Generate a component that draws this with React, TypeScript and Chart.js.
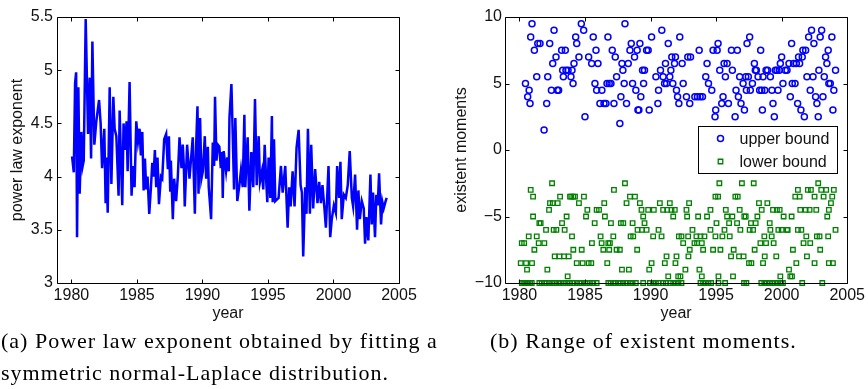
import React, { useEffect, useRef } from 'react';
import { Chart, registerables } from 'chart.js';

Chart.register(...registerables);

const YEAR0 = 1980;
const X_MIN = 1978.9;
const X_MAX = 2005;

const yearTicks = [1980, 1985, 1990, 1995, 2000, 2005];
const exponentTicks = [3, 3.5, 4, 4.5, 5, 5.5];
const momentTicks = [-10, -5, 0, 5, 10];

// [years since 1980, power law exponent]
const exponentSeries: [number, number][] = [
  [0.05, 4.19], [0.18, 4.04], [0.28, 4.88], [0.36, 4.98], [0.43, 3.43], [0.53, 4.84], [0.63, 3.84], [0.76, 4.42],
  [0.86, 4.1], [0.94, 4.15], [1.09, 5.48], [1.27, 4.4], [1.4, 4.93], [1.5, 4.17], [1.6, 5.27], [1.75, 4.3],
  [1.9, 4.52], [2.11, 4.72], [2.23, 4.5], [2.34, 4.08], [2.51, 4.45], [2.61, 3.75], [2.66, 4.18], [2.77, 3.66],
  [2.92, 4.84], [3.05, 3.93], [3.2, 4.75], [3.3, 4.45], [3.43, 4.38], [3.6, 3.82], [3.68, 4.62], [3.88, 3.73],
  [3.98, 4.5], [4.09, 4.25], [4.21, 4.52], [4.29, 4.05], [4.44, 4.89], [4.59, 3.82], [4.7, 4.1], [4.82, 3.9],
  [4.95, 4.52], [5.08, 4.33], [5.2, 4.45], [5.3, 4.2], [5.41, 4.42], [5.51, 3.87], [5.61, 4.17], [5.71, 3.88],
  [5.81, 4.0], [5.94, 3.65], [6.07, 3.9], [6.17, 4.13], [6.27, 4.0], [6.37, 4.25], [6.47, 3.9], [6.57, 4.18],
  [6.68, 3.74], [6.83, 4.0], [6.93, 3.98], [7.08, 4.35], [7.23, 4.4], [7.36, 4.07], [7.44, 4.38], [7.54, 3.87],
  [7.59, 4.15], [7.74, 3.6], [7.84, 3.98], [7.99, 3.77], [8.12, 4.0], [8.25, 4.37], [8.4, 4.08], [8.5, 4.3],
  [8.58, 4.1], [8.65, 3.72], [8.83, 4.3], [9.01, 3.98], [9.26, 4.37], [9.42, 3.65], [9.52, 4.3], [9.62, 4.66],
  [9.7, 3.84], [9.82, 4.55], [9.92, 3.98], [10.03, 4.05], [10.18, 4.38], [10.28, 3.98], [10.41, 4.28], [10.48, 3.9],
  [10.66, 3.6], [10.79, 4.32], [10.89, 4.1], [10.96, 4.75], [11.07, 4.15], [11.17, 4.3], [11.29, 4.28], [11.4, 4.08],
  [11.5, 4.23], [11.55, 3.8], [11.62, 4.24], [11.8, 4.05], [11.9, 4.18], [12.01, 4.05], [12.06, 4.55], [12.21, 4.87],
  [12.31, 4.4], [12.41, 3.88], [12.51, 4.55], [12.66, 3.77], [12.82, 3.92], [12.94, 4.06], [13.07, 3.9], [13.2, 4.58],
  [13.27, 3.9], [13.45, 4.37], [13.58, 3.68], [13.73, 4.23], [13.88, 3.9], [14.01, 4.73], [14.14, 3.92], [14.29, 4.38],
  [14.39, 3.95], [14.54, 4.05], [14.64, 3.88], [14.75, 4.3], [14.85, 4.0], [14.95, 3.76], [15.05, 4.18], [15.18, 3.8],
  [15.3, 4.57], [15.36, 3.76], [15.46, 4.35], [15.56, 3.77], [15.81, 3.8], [15.99, 4.1], [16.12, 3.85], [16.32, 4.1],
  [16.5, 3.52], [16.62, 3.9], [16.73, 3.72], [16.88, 4.05], [17.03, 3.72], [17.18, 4.27], [17.34, 4.44], [17.49, 3.92],
  [17.59, 3.85], [17.69, 3.25], [17.84, 3.9], [17.94, 3.65], [18.05, 4.45], [18.2, 3.65], [18.3, 4.3], [18.45, 3.7],
  [18.6, 4.07], [18.78, 3.75], [18.91, 3.95], [19.04, 3.75], [19.16, 3.92], [19.31, 3.7], [19.42, 3.52], [19.54, 3.87],
  [19.62, 4.1], [19.75, 3.43], [19.87, 3.6], [20.03, 3.73], [20.18, 3.66], [20.28, 4.1], [20.43, 3.8], [20.53, 4.14],
  [20.63, 3.6], [20.79, 3.83], [20.94, 3.8], [21.09, 3.92], [21.24, 4.24], [21.4, 3.8], [21.5, 3.72], [21.65, 4.02],
  [21.8, 3.5], [21.9, 3.87], [22.01, 3.6], [22.16, 3.77], [22.31, 3.7], [22.41, 3.37], [22.51, 3.62], [22.66, 3.4],
  [22.82, 4.02], [22.92, 3.55], [23.02, 3.85], [23.17, 3.43], [23.27, 3.83], [23.38, 3.73], [23.48, 4.03], [23.63, 3.55],
  [23.73, 3.76], [23.83, 3.7], [23.98, 3.77], [24.06, 3.8],
];

// [years since 1980, upper bound]
const upperBound: [number, number][] = [
  [0.46, 5], [0.63, 4], [0.74, 4.5], [0.81, 3.5], [0.86, 8.5], [0.96, 9.5], [1.14, 7.5], [1.32, 5.5], [1.4, 8], [1.57, 8],
  [1.88, 1.5], [2.08, 3.5], [2.16, 5.5], [2.31, 8], [2.44, 4.5], [2.54, 6.5], [2.64, 9], [2.79, 7], [2.89, 4.5], [2.99, 4.5],
  [3.22, 7.5], [3.3, 6], [3.35, 5.5], [3.5, 7.5], [3.55, 6], [3.71, 6], [3.93, 5.5], [4.01, 6], [4.09, 5], [4.16, 6.5],
  [4.29, 8.5], [4.37, 8], [4.54, 7], [4.72, 9.5], [4.9, 9], [5.0, 2.5], [5.28, 7], [5.51, 6.5], [5.63, 8.5], [5.76, 5],
  [5.84, 7.5], [5.89, 4.5], [5.99, 6.5], [6.14, 3.5], [6.29, 4.5], [6.45, 3.5], [6.6, 3.5], [6.68, 5], [6.75, 8.5], [6.85, 5],
  [6.98, 5], [7.08, 7.5], [7.21, 3.5], [7.31, 7], [7.41, 5.5], [7.66, 2], [7.74, 4], [7.82, 6.5], [7.89, 6], [7.99, 5],
  [8.05, 9.5], [8.17, 3.5], [8.3, 6.5], [8.43, 7.5], [8.53, 8], [8.63, 5], [8.78, 7], [8.88, 4.5], [8.98, 7.5], [9.04, 3],
  [9.11, 3], [9.19, 8], [9.26, 4], [9.39, 6], [9.47, 5], [9.54, 6], [9.7, 7.5], [9.82, 7.5], [9.9, 3], [10.08, 8.5],
  [10.41, 5.5], [10.56, 3.5], [10.61, 4.5], [10.76, 6], [10.86, 9], [10.96, 5.5], [11.07, 5], [11.14, 6.5], [11.22, 5], [11.35, 8],
  [11.47, 5.5], [11.55, 6], [11.62, 7], [11.7, 5], [11.83, 6.5], [11.9, 7], [11.98, 4.5], [12.06, 4], [12.16, 3.5], [12.23, 8.5],
  [12.41, 6.5], [12.49, 5], [12.74, 4], [12.84, 7], [12.99, 3.5], [13.05, 7], [13.38, 4], [13.58, 4], [13.71, 7.5], [13.78, 4],
  [13.96, 4], [14.21, 5.5], [14.31, 6.5], [14.42, 5], [14.67, 4.5], [14.77, 7.5], [14.92, 2.5], [14.97, 3], [15.08, 7.5], [15.15, 8],
  [15.28, 6], [15.43, 3.5], [15.53, 4], [15.61, 6.5], [15.71, 5.5], [15.84, 6.5], [15.94, 3.5], [16.17, 7.5], [16.24, 6], [16.45, 2.5],
  [16.52, 4.5], [16.62, 7.5], [16.7, 4], [16.8, 5.5], [16.9, 3.5], [17.06, 5], [17.16, 3], [17.26, 5.5], [17.31, 4.5], [17.36, 8],
  [17.46, 5.5], [17.56, 8.5], [17.61, 4.5], [17.77, 5], [17.92, 6.5], [17.99, 6], [18.07, 6], [18.2, 5.5], [18.32, 4.5], [18.4, 7.5],
  [18.48, 4.5], [18.53, 3], [18.58, 5.5], [18.71, 4.5], [18.81, 6], [18.93, 6], [19.14, 5.5], [19.26, 4.5], [19.34, 3.5], [19.44, 2.5],
  [19.52, 6], [19.64, 6], [19.72, 4.5], [19.82, 6], [19.9, 6.5], [20.0, 7], [20.1, 5], [20.28, 6], [20.41, 6], [20.56, 6.5],
  [20.66, 4], [20.76, 8], [20.81, 5], [20.91, 6.5], [21.02, 5], [21.12, 6.5], [21.22, 3.5], [21.29, 7], [21.37, 6.5], [21.47, 3],
  [21.57, 7], [21.62, 7.5], [21.73, 2.5], [21.83, 7.5], [21.93, 5.5], [22.06, 8.5], [22.18, 4.5], [22.28, 9], [22.39, 5.5], [22.46, 8],
  [22.59, 4], [22.69, 3.5], [22.79, 2.5], [22.84, 6], [22.94, 8.5], [23.05, 9], [23.15, 4], [23.25, 5.5], [23.35, 7], [23.45, 6.5],
  [23.55, 7.5], [23.6, 5], [23.71, 5], [23.83, 8.5], [23.91, 3], [23.98, 4.5], [24.11, 6],
];

// [years since 1980, lower bound]
const lowerBound: [number, number][] = [
  [0.18, -10], [0.3, -10], [0.43, -10], [0.56, -10], [0.69, -10], [0.81, -10], [0.94, -10], [1.52, -10], [1.7, -10], [1.9, -10],
  [2.08, -10], [2.28, -10], [2.51, -10], [2.72, -10], [2.97, -10], [3.17, -10], [3.4, -10], [3.65, -10], [3.86, -10], [4.11, -10],
  [4.37, -10], [4.57, -10], [4.75, -10], [5.0, -10], [5.18, -10], [5.38, -10], [5.63, -10], [5.89, -10], [6.78, -10], [6.95, -10],
  [7.16, -10], [7.33, -10], [7.54, -10], [7.72, -10], [7.92, -10], [8.17, -10], [8.43, -10], [8.63, -10], [8.88, -10], [9.44, -10],
  [9.95, -10], [10.2, -10], [10.41, -10], [10.61, -10], [10.96, -10], [11.17, -10], [11.52, -10], [11.73, -10], [11.93, -10], [12.13, -10],
  [12.36, -10], [13.81, -10], [14.01, -10], [14.21, -10], [14.42, -10], [14.62, -10], [15.18, -10], [15.69, -10], [17.13, -10], [17.31, -10],
  [18.45, -10], [18.68, -10], [18.88, -10], [19.09, -10], [19.29, -10], [19.49, -10], [19.7, -10], [19.95, -10], [20.1, -10], [21.57, -10],
  [23.1, -10],
  [0.1, -8.5], [0.18, -7], [0.36, -7], [0.51, -8.5], [0.58, -9], [0.71, -6.5], [0.86, -3], [0.96, -8.5], [1.04, -3.5], [1.04, -5],
  [1.14, -7.5], [1.32, -6.5], [1.47, -7], [1.52, -5.5], [1.62, -5.5], [1.9, -7], [2.03, -6], [2.13, -9], [2.26, -4.5], [2.33, -4],
  [2.49, -2.5], [2.54, -4], [2.61, -6], [2.69, -8], [2.82, -6], [2.92, -4], [3.05, -8], [3.1, -3.5], [3.25, -5.5], [3.4, -8],
  [3.45, -6], [3.6, -5], [3.68, -9.5], [3.76, -8], [3.86, -3.5], [3.96, -3.5], [4.01, -6.5], [4.11, -3.5], [4.11, -7.5], [4.24, -3.5],
  [4.37, -8.5], [4.54, -4], [4.75, -7.5], [4.82, -8.5], [4.92, -3.5], [5.08, -5], [5.18, -4.5], [5.28, -8.5], [5.48, -8.5], [5.53, -7],
  [5.74, -5.5], [5.89, -4.5], [6.07, -4.5], [6.19, -6.5], [6.27, -7], [6.4, -7.5], [6.47, -4], [6.52, -5], [6.7, -8.5], [6.78, -7],
  [6.85, -7.5], [6.9, -7], [6.98, -5.5], [7.16, -6.5], [7.21, -3], [7.41, -7.5], [7.66, -7.5], [7.74, -5.5], [7.82, -9], [7.92, -5.5],
  [8.05, -2.5], [8.17, -4], [8.35, -9], [8.43, -3.5], [8.48, -6.5], [8.63, -5.5], [8.68, -6.5], [8.81, -3.5], [8.98, -7.5], [9.01, -6],
  [9.19, -4], [9.31, -4.5], [9.34, -6], [9.44, -5], [9.54, -5.5], [9.7, -6], [9.82, -4.5], [9.9, -9], [10.08, -8.5], [10.2, -6.5],
  [10.25, -4.5], [10.61, -6], [10.71, -4], [10.84, -6.5], [10.96, -4.5], [11.09, -8.5], [11.22, -8], [11.27, -4.5], [11.35, -9.5], [11.47, -4],
  [11.6, -4.5], [11.73, -5], [11.85, -4.5], [11.9, -8.5], [11.98, -8], [12.11, -9.5], [12.16, -6.5], [12.28, -9.5], [12.36, -6.5], [12.49, -7],
  [12.66, -9], [12.74, -4.5], [12.79, -5], [12.87, -6.5], [12.89, -8], [12.94, -4], [12.99, -7.5], [13.2, -6], [13.35, -7], [13.5, -6.5],
  [13.55, -7], [13.63, -5], [13.73, -9], [13.81, -6.5], [13.91, -7], [13.91, -9.5], [14.01, -7.5], [14.11, -6.5], [14.31, -5], [14.57, -4.5],
  [14.57, -6], [14.77, -7.5], [14.95, -6.5], [14.95, -3.5], [15.03, -5.5], [15.15, -3.5], [15.18, -9.5], [15.25, -2.5], [15.33, -7.5], [15.48, -6.5],
  [15.64, -6], [15.74, -4.5], [15.84, -5], [15.99, -5.5], [16.04, -6.5], [16.14, -8], [16.24, -5], [16.29, -9.5], [16.34, -7.5], [16.47, -3.5],
  [16.6, -5.5], [16.65, -3.5], [16.75, -8], [16.8, -4.5], [16.85, -6], [16.97, -2.5], [17.1, -8], [17.15, -5], [17.26, -5], [17.51, -8.5],
  [17.56, -6], [17.66, -5.5], [17.69, -8.5], [17.82, -6], [17.87, -2.5], [17.94, -7.5], [18.02, -5.5], [18.15, -5], [18.27, -4], [18.38, -7],
  [18.48, -4.5], [18.58, -8.5], [18.68, -6.5], [18.71, -8], [18.81, -7], [18.91, -4], [19.09, -5.5], [19.14, -6], [19.24, -6.5], [19.34, -4.5],
  [19.39, -7], [19.59, -8], [19.64, -4.5], [19.75, -6], [19.85, -4.5], [19.9, -9.5], [20.0, -6], [20.15, -5], [20.41, -6], [20.46, -6],
  [20.56, -9], [20.66, -9.5], [20.76, -5], [20.79, -9.5], [20.86, -7.5], [21.04, -3.5], [21.12, -8.5], [21.24, -3], [21.24, -6], [21.37, -3.5],
  [21.42, -4.5], [21.5, -6], [21.67, -7], [21.83, -4.5], [21.88, -6.5], [21.93, -8], [22.0, -3], [22.13, -4.5], [22.18, -7], [22.23, -3],
  [22.51, -8.5], [22.51, -3.5], [22.64, -4.5], [22.69, -6.5], [22.79, -2.5], [22.89, -6.5], [22.94, -7.5], [23.02, -3], [23.2, -3.5], [23.4, -3],
  [23.48, -5], [23.55, -6.5], [23.6, -4.5], [23.6, -8.5], [23.76, -4], [23.86, -3.5], [23.91, -8.5], [23.98, -3], [24.11, -6],
];

const BLUE = '#0000ff';
const GREEN = '#008000';
const INK = '#111111';
const SANS = '"Liberation Sans", Arial, Helvetica, sans-serif';
const axisFont = { family: SANS, size: 16 };

const toPoints = (rows: [number, number][]) => rows.map(([o, v]) => ({ x: YEAR0 + o, y: v }));
const fmt = (v: number) => String(v).replace('-', '\u2212');

const framePlugin = {
  id: 'matlabFrame',
  afterDraw(chart: any) {
    const { ctx, chartArea: a, scales } = chart;
    const L = 4;
    ctx.save();
    ctx.strokeStyle = '#000';
    ctx.lineWidth = 1;
    const l = Math.round(a.left) + 0.5, r = Math.round(a.right) + 0.5;
    const t = Math.round(a.top) + 0.5, b = Math.round(a.bottom) + 0.5;
    ctx.beginPath();
    ctx.rect(l, t, r - l, b - t);
    for (const tk of scales.x.ticks) {
      const px = Math.round(scales.x.getPixelForValue(tk.value)) + 0.5;
      ctx.moveTo(px, b); ctx.lineTo(px, b - L);
      ctx.moveTo(px, t); ctx.lineTo(px, t + L);
    }
    for (const tk of scales.y.ticks) {
      const py = Math.round(scales.y.getPixelForValue(tk.value)) + 0.5;
      ctx.moveTo(l, py); ctx.lineTo(l + L, py);
      ctx.moveTo(r, py); ctx.lineTo(r - L, py);
    }
    ctx.stroke();
    ctx.restore();
  },
};

const boxLegendPlugin = {
  id: 'boxLegend',
  afterDraw(chart: any) {
    if (chart.config.type !== 'scatter') return;
    const { ctx, chartArea: a } = chart;
    const w = 139, h = 47;
    const x0 = Math.round(a.right - 10 - w) + 0.5;
    const y0 = Math.round(a.top + 109) + 0.5;
    ctx.save();
    ctx.fillStyle = '#fff';
    ctx.fillRect(x0, y0, w, h);
    ctx.strokeStyle = '#000';
    ctx.lineWidth = 1;
    ctx.strokeRect(x0, y0, w, h);
    ctx.font = `16px ${SANS}`;
    ctx.textBaseline = 'middle';
    ctx.textAlign = 'left';
    chart.data.datasets.forEach((ds: any, i: number) => {
      const cy = y0 + 12 + i * 23;
      const cx = x0 + 22;
      ctx.strokeStyle = ds.borderColor;
      ctx.lineWidth = ds.borderWidth;
      ctx.beginPath();
      if (ds.pointStyle === 'rect') {
        const s = Math.SQRT1_2 * ds.pointRadius;
        ctx.rect(cx - s, cy - s, 2 * s, 2 * s);
      } else {
        ctx.arc(cx, cy, ds.pointRadius, 0, Math.PI * 2);
      }
      ctx.stroke();
      ctx.fillStyle = INK;
      ctx.fillText(ds.label, x0 + 41, cy + 1);
    });
    ctx.restore();
  },
};

function xScale() {
  return {
    type: 'linear' as const,
    min: X_MIN,
    max: X_MAX,
    grid: { display: false, drawTicks: false },
    border: { display: false },
    ticks: { font: axisFont, color: INK, padding: 3, maxRotation: 0, autoSkip: false, callback: (v: any) => fmt(v) },
    afterBuildTicks: (ax: any) => { ax.ticks = yearTicks.map((v) => ({ value: v })); },
    afterFit: (ax: any) => { ax.height = 47; },
    title: { display: true, text: 'year', font: axisFont, color: INK, padding: { top: 0, bottom: 7 } },
  };
}

function yScale(ticks: number[], title: string, width: number, titlePad: number, tickPad: number) {
  return {
    type: 'linear' as const,
    min: ticks[0],
    max: ticks[ticks.length - 1],
    grid: { display: false, drawTicks: false },
    border: { display: false },
    ticks: { font: axisFont, color: INK, padding: tickPad, autoSkip: false, callback: (v: any) => fmt(v) },
    afterBuildTicks: (ax: any) => { ax.ticks = ticks.map((v) => ({ value: v })); },
    afterFit: (ax: any) => { ax.width = width; },
    title: { display: true, text: title, font: axisFont, color: INK, padding: { top: titlePad, bottom: 0 } },
  };
}

function LineChart() {
  const ref = useRef<HTMLCanvasElement>(null);
  useEffect(() => {
    const chart = new Chart(ref.current!, {
      type: 'line',
      data: {
        datasets: [{
          label: 'power law exponent',
          data: toPoints(exponentSeries),
          borderColor: BLUE,
          borderWidth: 2.5,
          pointRadius: 0,
          tension: 0,
          fill: false,
        }],
      },
      options: {
        animation: false,
        responsive: false,
        layout: { padding: { left: 0, right: 21, top: 17, bottom: 0 } },
        plugins: { legend: { display: false }, tooltip: { enabled: false } },
        scales: {
          x: xScale(),
          y: yScale(exponentTicks, 'power law exponent', 57, 8, 4),
        },
      },
      plugins: [framePlugin],
    });
    return () => chart.destroy();
  }, []);
  return <canvas ref={ref} width={420} height={330} style={{ position: 'absolute', left: 0, top: 0 }} />;
}

function ScatterChart() {
  const ref = useRef<HTMLCanvasElement>(null);
  useEffect(() => {
    const chart = new Chart(ref.current!, {
      type: 'scatter',
      data: {
        datasets: [
          {
            label: 'upper bound',
            data: toPoints(upperBound),
            pointStyle: 'circle',
            pointRadius: 3,
            borderWidth: 1.5,
            borderColor: BLUE,
            backgroundColor: 'rgba(0,0,0,0)',
            clip: false,
          },
          {
            label: 'lower bound',
            data: toPoints(lowerBound),
            pointStyle: 'rect',
            pointRadius: 3.2,
            borderWidth: 1.3,
            borderColor: GREEN,
            backgroundColor: 'rgba(0,0,0,0)',
            clip: false,
          },
        ],
      },
      options: {
        animation: false,
        responsive: false,
        layout: { padding: { left: 0, right: 20, top: 17, bottom: 0 } },
        plugins: { legend: { display: false }, tooltip: { enabled: false } },
        scales: {
          x: xScale(),
          y: yScale(momentTicks, 'existent moments', 71, 18, 3),
        },
      },
      plugins: [framePlugin, boxLegendPlugin],
    } as any);
    return () => chart.destroy();
  }, []);
  return <canvas ref={ref} width={434} height={330} style={{ position: 'absolute', left: 434, top: 0 }} />;
}

const captionStyle: React.CSSProperties = {
  position: 'absolute',
  fontFamily: '"Liberation Serif", "Times New Roman", serif',
  fontSize: 22,
  letterSpacing: '1px',
  lineHeight: '32px',
  color: '#000',
  whiteSpace: 'nowrap',
};

export default function App() {
  useEffect(() => {
    document.body.style.margin = '0';
    document.body.style.background = '#fff';
  }, []);
  return (
    <div style={{ position: 'relative', width: 868, height: 389, overflow: 'hidden', background: '#fff' }}>
      <LineChart />
      <ScatterChart />
      <div style={{ ...captionStyle, left: 1, top: 325 }}>
        (a) Power law exponent obtained by fitting a<br />symmetric normal-Laplace distribution.
      </div>
      <div style={{ ...captionStyle, left: 490, top: 325 }}>(b) Range of existent moments.</div>
    </div>
  );
}
